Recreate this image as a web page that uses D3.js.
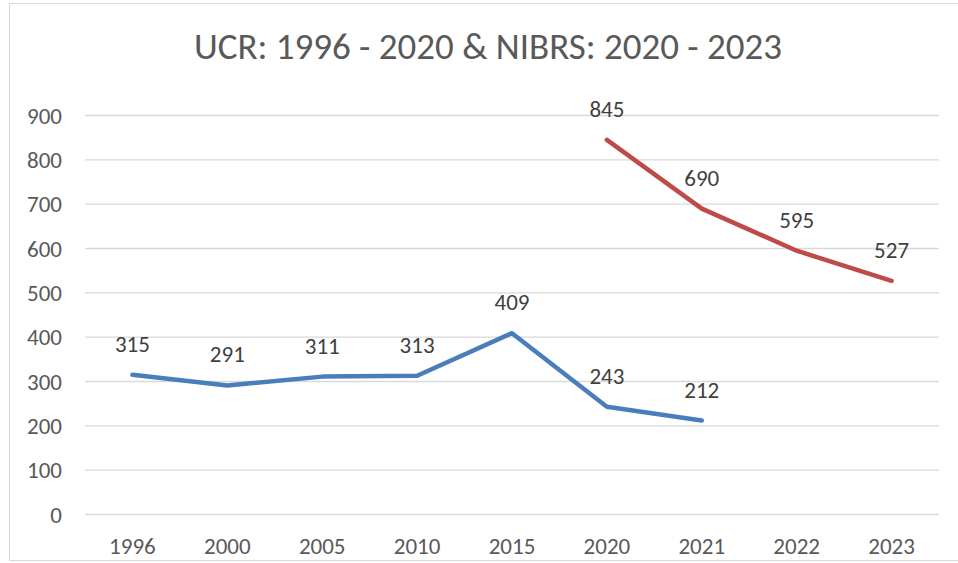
<!DOCTYPE html>
<html>
<head>
<meta charset="utf-8">
<script src="https://cdn.jsdelivr.net/npm/d3@7"></script>
<style>
  body { margin: 0; background: #fff; }
  svg { display: block; font-family: Carlito, Lato, "Open Sans", sans-serif; }
</style>
</head>
<body>
<svg id="chart" width="958" height="563"></svg>
<script>
const years = ["1996", "2000", "2005", "2010", "2015", "2020", "2021", "2022", "2023"];
const ucrYears = ["1996", "2000", "2005", "2010", "2015", "2020", "2021"];
const ucrValues = [315, 291, 311, 313, 409, 243, 212];
const nibrsYears = ["2020", "2021", "2022", "2023"];
const nibrsValues = [845, 690, 595, 527];
const yTicks = [0, 100, 200, 300, 400, 500, 600, 700, 800, 900];
const title = "UCR: 1996 - 2020 & NIBRS: 2020 - 2023";

const svg = d3.select("#chart");

// chart frame (right edge runs off the picture)
svg.append("rect")
    .attr("x", 9.5).attr("y", 3.5)
    .attr("width", 970).attr("height", 557)
    .attr("fill", "#fff")
    .attr("stroke", "#d9d9d9")
    .attr("stroke-width", 1);

const x = d3.scaleBand()
    .domain(years)
    .range([85, 939]);

const y = d3.scaleLinear()
    .domain([0, 900])
    .range([514.5, 115.5]);

const cx = d => x(d) + x.bandwidth() / 2;

// gridlines
svg.append("g")
    .selectAll("line")
    .data(yTicks)
    .join("line")
    .attr("x1", 85).attr("x2", 939)
    .attr("y1", d => y(d)).attr("y2", d => y(d))
    .attr("stroke", "#d9d9d9")
    .attr("stroke-width", 1.3);

// y labels
svg.append("g")
    .selectAll("text")
    .data(yTicks)
    .join("text")
    .attr("x", 62)
    .attr("y", d => y(d))
    .attr("text-anchor", "end")
    .attr("dominant-baseline", "central")
    .attr("font-size", "23px")
    .attr("fill", "#595959")
    .text(d => d);

// x labels
svg.append("g")
    .selectAll("text")
    .data(years)
    .join("text")
    .attr("x", d => cx(d))
    .attr("y", 546)
    .attr("text-anchor", "middle")
    .attr("dominant-baseline", "central")
    .attr("font-size", "23px")
    .attr("fill", "#595959")
    .text(d => d);

svg.append("text")
    .attr("x", 488)
    .attr("y", 46)
    .attr("text-anchor", "middle")
    .attr("dominant-baseline", "central")
    .attr("font-size", "37px")
    .attr("fill", "#595959")
    .text(title);

const line = d3.line()
    .x(d => cx(d[0]))
    .y(d => y(d[1]));

function drawSeries(keys, values, colour) {
    const pts = keys.map((k, i) => [k, values[i]]);
    svg.append("path")
        .datum(pts)
        .attr("d", line)
        .attr("fill", "none")
        .attr("stroke", colour)
        .attr("stroke-width", 4.5)
        .attr("stroke-linecap", "round")
        .attr("stroke-linejoin", "round");

    svg.append("g")
        .selectAll("text")
        .data(pts)
        .join("text")
        .attr("x", d => cx(d[0]))
        .attr("y", d => y(d[1]) - 31)
        .attr("text-anchor", "middle")
        .attr("dominant-baseline", "central")
        .attr("font-size", "23px")
        .attr("fill", "#404040")
        .text(d => d[1]);
}

drawSeries(ucrYears, ucrValues, "#4a7ebb");
drawSeries(nibrsYears, nibrsValues, "#be4b48");
</script>
</body>
</html>
